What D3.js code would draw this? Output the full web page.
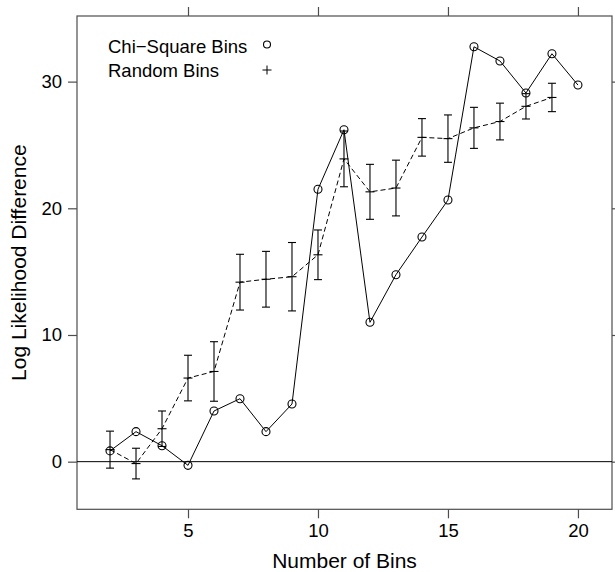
<!DOCTYPE html>
<html>
<head>
<meta charset="utf-8">
<script src="https://cdn.jsdelivr.net/npm/d3@7"></script>
<style>
  body { margin: 0; background: #fff; }
  svg text { font-family: "Liberation Sans", Arial, Helvetica, sans-serif; fill: #000; }
</style>
</head>
<body>
<div id="chart"></div>
<script>
// number of bins on x
var bins = [2, 3, 4, 5, 6, 7, 8, 9, 10, 11, 12, 13, 14, 15, 16, 17, 18, 19, 20];
// chi-square bins, log likelihood difference
var chiSquare = [0.85, 2.37, 1.26, -0.29, 4.0, 4.97, 2.37, 4.55, 21.5, 26.2, 11.0, 14.76, 17.73, 20.65, 32.75, 31.63, 29.1, 32.2, 29.73];
// random bins: mean and half width of the error bar (bins 2..19)
var randomBins = [2, 3, 4, 5, 6, 7, 8, 9, 10, 11, 12, 13, 14, 15, 16, 17, 18, 19];
var randomMean = [0.95, -0.15, 2.6, 6.6, 7.12, 14.17, 14.4, 14.6, 16.33, 23.9, 21.3, 21.6, 25.6, 25.5, 26.35, 26.85, 28.05, 28.75];
var randomErr = [1.46, 1.21, 1.4, 1.8, 2.35, 2.2, 2.2, 2.7, 1.96, 2.2, 2.17, 2.2, 1.48, 1.87, 1.62, 1.45, 1.0, 1.12];
var xTicks = [5, 10, 15, 20];
var yTicks = [0, 10, 20, 30];
var legendLabels = ["Chi\u2212Square Bins", "Random Bins"];

var W = 615, H = 572;
var mLeft = 77, mRight = 612, mTop = 16, mBottom = 509.3;
var fs = 18.5;   // ticks and legend
var fsTitle = 21; // axis titles

var svg = d3.select("#chart").append("svg")
	.attr("width", W)
	.attr("height", H);

var x = d3.scaleLinear().domain([0.73, 21.31]).range([mLeft, mRight]);
var y = d3.scaleLinear().domain([-3.76, 35.18]).range([mBottom, mTop]);

// frame
svg.append("rect")
	.attr("x", mLeft).attr("y", mTop)
	.attr("width", mRight - mLeft).attr("height", mBottom - mTop)
	.attr("fill", "none")
	.attr("stroke", "#4d4d4d")
	.attr("stroke-width", 1.2);

// axes, ticks outside on all four sides
function styleAxis(g) {
	g.select(".domain").remove();
	g.selectAll(".tick line").attr("stroke", "#4d4d4d").attr("stroke-width", 1.2);
	g.selectAll(".tick text")
		.attr("font-size", fs)
		.attr("fill", "#000")
		.attr("font-family", "Liberation Sans, Arial, sans-serif");
}
svg.append("g").attr("transform", "translate(0," + mBottom + ")")
	.call(d3.axisBottom(x).tickValues(xTicks).tickSize(9).tickPadding(6))
	.call(styleAxis);
svg.append("g").attr("transform", "translate(0," + mTop + ")")
	.call(d3.axisTop(x).tickValues(xTicks).tickSize(9).tickFormat(""))
	.call(styleAxis);
svg.append("g").attr("transform", "translate(" + mLeft + ",0)")
	.call(d3.axisLeft(y).tickValues(yTicks).tickSize(9).tickPadding(6))
	.call(styleAxis);
svg.append("g").attr("transform", "translate(" + mRight + ",0)")
	.call(d3.axisRight(y).tickValues(yTicks).tickSize(9).tickFormat(""))
	.call(styleAxis);

// reference line at zero
svg.append("line")
	.attr("x1", mLeft).attr("x2", mRight)
	.attr("y1", y(0)).attr("y2", y(0))
	.attr("stroke", "#000").attr("stroke-width", 1);

// axis titles
svg.append("text")
	.attr("x", (mLeft + mRight) / 2).attr("y", 568)
	.attr("text-anchor", "middle")
	.attr("font-size", fsTitle)
	.text("Number of Bins");
svg.append("text")
	.attr("transform", "translate(26," + ((mTop + mBottom) / 2) + ") rotate(-90)")
	.attr("text-anchor", "middle")
	.attr("font-size", fsTitle)
	.text("Log Likelihood Difference");

// random bins: dashed line + error bars + plus signs
var rnd = randomBins.map(function(b, i) { return {b: b, m: randomMean[i], e: randomErr[i]}; });

svg.append("path")
	.datum(rnd)
	.attr("fill", "none")
	.attr("stroke", "#000")
	.attr("stroke-width", 1)
	.attr("stroke-dasharray", "5,3")
	.attr("d", d3.line().x(function(d) { return x(d.b); }).y(function(d) { return y(d.m); }));

var eb = svg.append("g").selectAll("g")
	.data(rnd)
	.enter().append("g")
	.attr("stroke", "#000")
	.attr("stroke-width", 1.1);
eb.append("line")
	.attr("x1", function(d) { return x(d.b); }).attr("x2", function(d) { return x(d.b); })
	.attr("y1", function(d) { return y(d.m - d.e); }).attr("y2", function(d) { return y(d.m + d.e); });
eb.append("line")
	.attr("x1", function(d) { return x(d.b) - 4; }).attr("x2", function(d) { return x(d.b) + 4; })
	.attr("y1", function(d) { return y(d.m + d.e); }).attr("y2", function(d) { return y(d.m + d.e); });
eb.append("line")
	.attr("x1", function(d) { return x(d.b) - 4; }).attr("x2", function(d) { return x(d.b) + 4; })
	.attr("y1", function(d) { return y(d.m - d.e); }).attr("y2", function(d) { return y(d.m - d.e); });
// plus markers (vertical part is the error bar itself)
eb.append("line")
	.attr("x1", function(d) { return x(d.b) - 4.5; }).attr("x2", function(d) { return x(d.b) + 4.5; })
	.attr("y1", function(d) { return y(d.m); }).attr("y2", function(d) { return y(d.m); });

// chi-square bins: solid line with open circles
var chi = bins.map(function(b, i) { return {b: b, v: chiSquare[i]}; });
svg.append("path")
	.datum(chi)
	.attr("fill", "none")
	.attr("stroke", "#000")
	.attr("stroke-width", 1)
	.attr("d", d3.line().x(function(d) { return x(d.b); }).y(function(d) { return y(d.v); }));
svg.append("g").selectAll("circle")
	.data(chi)
	.enter().append("circle")
	.attr("cx", function(d) { return x(d.b); })
	.attr("cy", function(d) { return y(d.v); })
	.attr("r", 4)
	.attr("fill", "none")
	.attr("stroke", "#000")
	.attr("stroke-width", 1.1);

// legend
var lg = svg.append("g");
lg.selectAll("text")
	.data(legendLabels)
	.enter().append("text")
	.attr("x", 108)
	.attr("y", function(d, i) { return 53 + i * 23.5; })
	.attr("font-size", fs)
	.text(function(d) { return d; });
lg.append("circle")
	.attr("cx", 267).attr("cy", 44.5).attr("r", 3.5)
	.attr("fill", "none").attr("stroke", "#000").attr("stroke-width", 1.1);
lg.append("line").attr("x1", 262.5).attr("x2", 271.5).attr("y1", 70).attr("y2", 70).attr("stroke", "#000");
lg.append("line").attr("x1", 267).attr("x2", 267).attr("y1", 65.5).attr("y2", 74.5).attr("stroke", "#000");
</script>
</body>
</html>
